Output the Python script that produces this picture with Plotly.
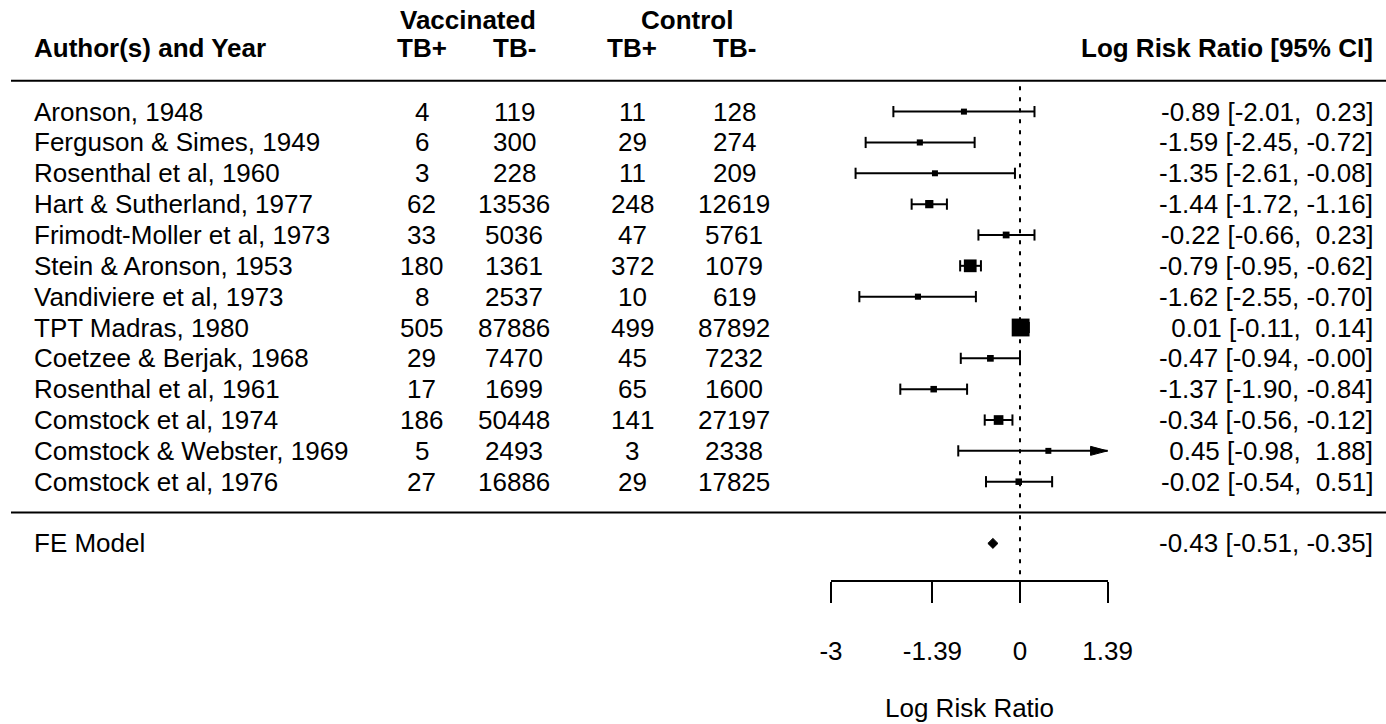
import plotly.graph_objects as go

# ---------------- data ----------------
studies = ["Aronson, 1948", "Ferguson & Simes, 1949", "Rosenthal et al, 1960",
           "Hart & Sutherland, 1977", "Frimodt-Moller et al, 1973", "Stein & Aronson, 1953",
           "Vandiviere et al, 1973", "TPT Madras, 1980", "Coetzee & Berjak, 1968",
           "Rosenthal et al, 1961", "Comstock et al, 1974", "Comstock & Webster, 1969",
           "Comstock et al, 1976"]
vacc_pos = [4, 6, 3, 62, 33, 180, 8, 505, 29, 17, 186, 5, 27]
vacc_neg = [119, 300, 228, 13536, 5036, 1361, 2537, 87886, 7470, 1699, 50448, 2493, 16886]
ctrl_pos = [11, 29, 11, 248, 47, 372, 10, 499, 45, 65, 141, 3, 29]
ctrl_neg = [128, 274, 209, 12619, 5761, 1079, 619, 87892, 7232, 1600, 27197, 2338, 17825]
log_rr = [-0.89, -1.59, -1.35, -1.44, -0.22, -0.79, -1.62, 0.01, -0.47, -1.37, -0.34, 0.45, -0.02]
ci_lb = [-2.01, -2.45, -2.61, -1.72, -0.66, -0.95, -2.55, -0.11, -0.94, -1.90, -0.56, -0.98, -0.54]
ci_ub = [0.23, -0.72, -0.08, -1.16, 0.23, -0.62, -0.70, 0.14, -0.00, -0.84, -0.12, 1.88, 0.51]
fe_label = "FE Model"
fe_est, fe_lb, fe_ub = -0.43, -0.51, -0.35
tick_vals = [-3, -1.39, 0, 1.39]
tick_text = ["-3", "-1.39", "0", "1.39"]
header_study = "Author(s) and Year"
header_groups = ["Vaccinated", "Control"]
header_cols = ["TB+", "TB-", "TB+", "TB-"]
header_right = "Log Risk Ratio [95% CI]"
axis_title = "Log Risk Ratio"

# ---------------- layout geometry (pixels) ----------------
W, H = 1386, 724
PX0, PXU = 1020.0, 63.0          # pixel of x=0, pixels per unit
ROW1_PX, ROWH = 481.7, 30.84     # pixel of row 1, pixels per row
FONT = "Liberation Sans, Arial, Helvetica, sans-serif"
FS = 26


def xd(px):
    return (px - PX0) / PXU


def yd(py):
    return 1 + (ROW1_PX - py) / ROWH


k = len(studies)
rows = list(range(k, 0, -1))
fe_row = -1
alim = (tick_vals[0], tick_vals[-1])

# weights (fixed-effect) from the counts -> point sizes
vi = [1 / a - 1 / (a + b) + 1 / c - 1 / (c + d)
      for a, b, c, d in zip(vacc_pos, vacc_neg, ctrl_pos, ctrl_neg)]
wi = [1 / v for v in vi]
wmin, wmax = min(wi), max(wi)
psize = [0.5 + (w - wmin) / (wmax - wmin) for w in wi]
sq_sizes = [11.9 * p for p in psize]

fig = go.Figure()

# CI segments
cx, cy = [], []
for lb, ub, r in zip(ci_lb, ci_ub, rows):
    cx += [max(lb, alim[0]), min(ub, alim[1]), None]
    cy += [r, r, None]
fig.add_trace(go.Scatter(x=cx, y=cy, mode="lines", line=dict(color="black", width=2),
                         hoverinfo="skip"))

# end caps
capx, capy = [], []
for lb, ub, r in zip(ci_lb, ci_ub, rows):
    if lb >= alim[0]:
        capx.append(lb); capy.append(r)
    if ub <= alim[1]:
        capx.append(ub); capy.append(r)
fig.add_trace(go.Scatter(x=capx, y=capy, mode="markers",
                         marker=dict(symbol="line-ns", size=8,
                                     line=dict(width=2, color="black")),
                         hoverinfo="skip"))

# squares
fig.add_trace(go.Scatter(x=log_rr, y=rows, mode="markers",
                         marker=dict(symbol="square", size=sq_sizes, color="black",
                                     opacity=1, line=dict(width=0, color="black")),
                         hoverinfo="skip"))

# FE diamond
dh = 5 / ROWH
fig.add_trace(go.Scatter(x=[fe_lb, fe_est, fe_ub, fe_est, fe_lb],
                         y=[fe_row, fe_row + dh, fe_row, fe_row - dh, fe_row],
                         mode="lines", fill="toself", fillcolor="black",
                         line=dict(color="black", width=1), hoverinfo="skip"))

# invisible trace to activate the visible axis
fig.add_trace(go.Scatter(x=[alim[0], alim[1]], y=[yd(H + 50), yd(H + 50)], xaxis="x2",
                         yaxis="y", mode="markers", marker=dict(opacity=0),
                         hoverinfo="skip"))

shapes = []
# horizontal rules
for yv in [k + 1, 0]:
    shapes.append(dict(type="line", xref="paper", yref="y", x0=11 / W, x1=1,
                       y0=yv, y1=yv, line=dict(color="black", width=2)))
# dotted reference line
shapes.append(dict(type="line", xref="x", yref="y", x0=0, x1=0, y0=fe_row - 1, y1=k + 1,
                   line=dict(color="black", width=2, dash="4px,7px")))
# arrows for truncated CIs
for lb, ub, r in zip(ci_lb, ci_ub, rows):
    if ub > alim[1]:
        shapes.append(dict(type="path", xref="x", yref="y", xsizemode="pixel",
                           ysizemode="pixel", xanchor=alim[1], yanchor=r,
                           path="M0,0 L-17,4.5 L-17,-4.5 Z", fillcolor="black",
                           line=dict(color="black", width=1)))
    if lb < alim[0]:
        shapes.append(dict(type="path", xref="x", yref="y", xsizemode="pixel",
                           ysizemode="pixel", xanchor=alim[0], yanchor=r,
                           path="M0,0 L17,4.5 L17,-4.5 Z", fillcolor="black",
                           line=dict(color="black", width=1)))

ann = []


def add_text(x, y, text, anchor, bold=False):
    ann.append(dict(x=x, y=y, xref="x", yref="y", text=f"<b>{text}</b>" if bold else text,
                    showarrow=False, xanchor=anchor, yanchor="middle",
                    font=dict(family=FONT, size=FS, color="black")))


label_x = xd(32)
col_x = [xd(421.5), xd(514), xd(632), xd(734)]
grp_x = [xd(467.5), xd(687)]
right_x = xd(1375)
head_y = yd(47.5)
grp_y = yd(20)


def fmt(v):
    s = f"{v:5.2f}"
    return s.replace(" ", "\u00a0")


# headers
add_text(label_x, head_y, header_study, "left", bold=True)
for cxp, t in zip(col_x, header_cols):
    add_text(cxp, head_y, t, "center", bold=True)
for gx, t in zip(grp_x, header_groups):
    add_text(gx, grp_y, t, "center", bold=True)
add_text(right_x, head_y, header_right, "right", bold=True)

# study rows
for i, r in enumerate(rows):
    add_text(label_x, r, studies[i], "left")
    for cxp, arr in zip(col_x, [vacc_pos, vacc_neg, ctrl_pos, ctrl_neg]):
        add_text(cxp, r, str(arr[i]), "center")
    add_text(right_x, r, f"{fmt(log_rr[i])} [{fmt(ci_lb[i])}, {fmt(ci_ub[i])}]", "right")

# FE row
add_text(label_x, fe_row, fe_label, "left")
add_text(right_x, fe_row, f"{fmt(fe_est)} [{fmt(fe_lb)}, {fmt(fe_ub)}]", "right")

# axis title
add_text((alim[0] + alim[1]) / 2, yd(708), axis_title, "center")

fig.update_layout(
    width=W, height=H, margin=dict(l=0, r=0, t=0, b=0, autoexpand=False),
    paper_bgcolor="white", plot_bgcolor="rgba(0,0,0,0)", showlegend=False,
    xaxis=dict(range=[xd(0), xd(W)], visible=False, fixedrange=True, automargin=False),
    yaxis=dict(range=[yd(H), yd(0)], visible=False, fixedrange=True, automargin=False),
    xaxis2=dict(range=[alim[0], alim[1]], domain=[(PX0 + alim[0] * PXU) / W,
                                                   (PX0 + alim[1] * PXU) / W],
                anchor="free", position=1 - 581 / H, side="bottom", automargin=False,
                showline=True, linecolor="black", linewidth=2,
                ticks="outside", ticklen=21, tickwidth=2, tickcolor="black",
                tickvals=tick_vals, ticktext=tick_text, ticklabelstandoff=26,
                tickfont=dict(family=FONT, size=FS, color="black"),
                showgrid=False, zeroline=False, fixedrange=True),
    shapes=shapes, annotations=ann,
)

fig.write_html("out.html", config={"displayModeBar": False})
